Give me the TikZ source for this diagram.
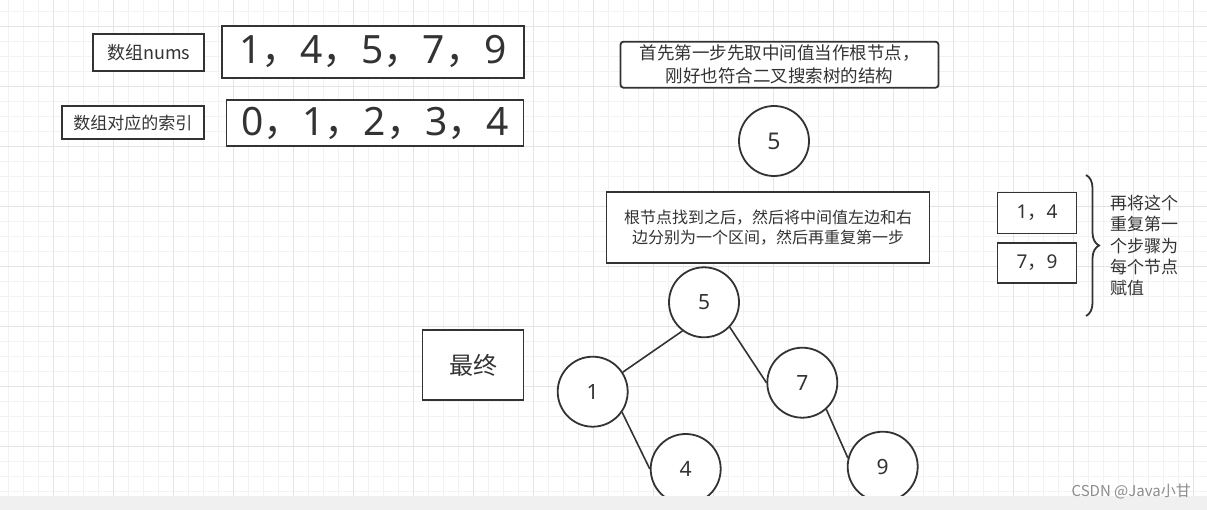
\documentclass[tikz,border=0pt]{standalone}
\usepackage{fontspec}
\setmainfont{Noto Sans CJK SC}
\newfontfamily\digitfont{Noto Sans}
\newcommand{\fwc}{{\rmfamily ，}}
\usetikzlibrary{decorations.pathreplacing}
\definecolor{inkgray}{HTML}{333333}
\definecolor{gridminor}{HTML}{F2F2F2}
\definecolor{gridmajor}{HTML}{E4E4E4}
\definecolor{barfill}{HTML}{F0F0F0}
\definecolor{markgray}{HTML}{8C8C8C}

\begin{document}
\begin{tikzpicture}[x=1pt, y=-1pt,
    box/.style={draw=inkgray, line width=1.8pt, inner sep=0pt, text=inkgray, align=center, fill=white},
    note/.style={box, rounded corners=3pt},
    treenode/.style={circle, draw=inkgray, line width=1.8pt, minimum size=70pt, inner sep=0pt, text=inkgray, fill=white, font=\digitfont\fontsize{21}{24}\selectfont},
    edge/.style={draw=inkgray, line width=1.6pt},
    minorgrid/.style={draw=gridminor, line width=1pt},
    majorgrid/.style={draw=gridmajor, line width=1pt}
  ]
  \useasboundingbox (0,0) rectangle (1207,510);
  \fill[white] (0,0) rectangle (1207,510);
  \foreach \gx in {8.33,23.33,...,1207} \draw[minorgrid] (\gx,0) -- (\gx,496);
  \foreach \gy in {11.67,26.67,...,496} \draw[minorgrid] (0,\gy) -- (1207,\gy);
  \foreach \gx in {53.33,113.33,...,1207} \draw[majorgrid] (\gx,0) -- (\gx,496);
  \foreach \gy in {26.67,86.67,...,496} \draw[majorgrid] (0,\gy) -- (1207,\gy);

  \node[box, minimum width=111pt, minimum height=37pt, font=\fontsize{18}{20}\selectfont] (numslabel) at (148.8,52.7) {数组nums};
  \node[box, minimum width=302pt, minimum height=52pt, font=\digitfont\fontsize{39}{42}\selectfont] (nums) at (372.8,51.7) {1\fwc 4\fwc 5\fwc 7\fwc 9};
  \node[box, minimum width=142pt, minimum height=33pt, font=\fontsize{17}{20}\selectfont] (idxlabel) at (132.8,122.7) {数组对应的索引};
  \node[box, minimum width=297pt, minimum height=46pt, font=\digitfont\fontsize{39}{42}\selectfont] (idx) at (375,123) {0\fwc 1\fwc 2\fwc 3\fwc 4};

  \node[note, minimum width=318pt, minimum height=46pt, font=\fontsize{17.5}{23}\selectfont] (firststep) at (779.5,64.7) {首先第一步先取中间值当作根节点，\\刚好也符合二叉搜索树的结构};
  \node[treenode, font=\digitfont\fontsize{23}{26}\selectfont] (root) at (774,141) {5};
  \node[box, minimum width=323pt, minimum height=71pt, font=\fontsize{16}{20}\selectfont] (split) at (768,227.8) {根节点找到之后，然后将中间值左边和右\\边分别为一个区间，然后再重复第一步};

  \node[box, minimum width=79pt, minimum height=41pt, font=\digitfont\fontsize{19}{22}\selectfont] (left) at (1037,213) {1\fwc 4};
  \node[box, minimum width=79pt, minimum height=40pt, font=\digitfont\fontsize{19}{22}\selectfont] (right) at (1037,262.7) {7\fwc 9};
  \draw[inkgray, line width=1.8pt, decorate, decoration={brace, amplitude=13pt}] (1086,175) -- (1086,316);
  \node[anchor=west, align=left, inner sep=0pt, text=inkgray, font=\fontsize{17}{21.2}\selectfont] (repeat) at (1110,245.6) {再将这个\\重复第一\\个步骤为\\每个节点\\赋值};

  \node[box, minimum width=101pt, minimum height=70pt, font=\fontsize{24}{28}\selectfont] (final) at (473,365) {最终};

  \node[treenode] (t5) at (704,302.3) {5};
  \node[treenode] (t1) at (592.7,391.7) {1};
  \node[treenode] (t7) at (802.3,382.7) {7};
  \node[treenode] (t4) at (685.7,469) {4};
  \node[treenode] (t9) at (882.7,466.7) {9};
  \draw[edge] (t5.-127) -- (t1.33);
  \draw[edge] (t5.-44) -- (t7.west);
  \draw[edge] (t1.-35) -- (t4.west);
  \draw[edge] (t7.-48) -- (t9.166);

  \fill[barfill] (0,496) rectangle (1207,510);
  \node[anchor=east, inner sep=0pt, text=markgray, font=\fontsize{15}{17}\selectfont] (mark) at (1191,492) {CSDN @Java小甘};
\end{tikzpicture}
\end{document}
